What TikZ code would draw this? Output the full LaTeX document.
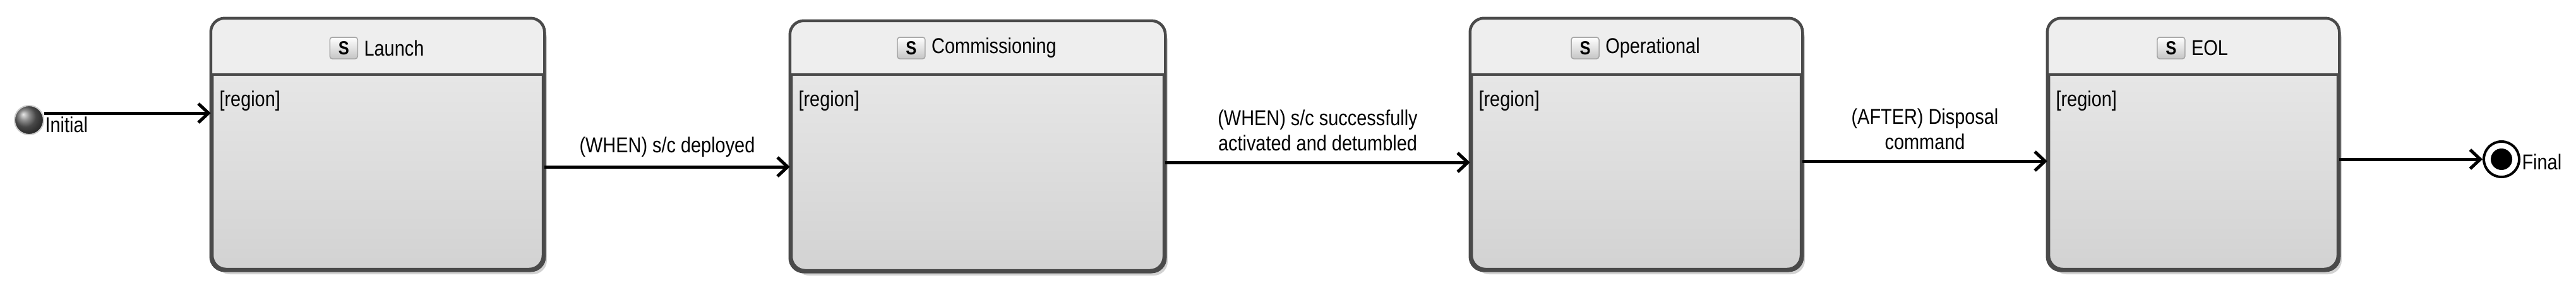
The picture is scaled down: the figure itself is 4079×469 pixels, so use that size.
\documentclass[tikz,border=0pt]{standalone}
\usepackage{fontspec}
\setmainfont{Liberation Sans}[FakeStretch=0.85]
\usetikzlibrary{arrows.meta,shadows}
\definecolor{bord}{HTML}{4A4A4A}
\tikzset{
  x=1pt,y=-1pt,
  tr/.style={line width=5pt,-{Straight Barb[length=16pt,width=30pt,line width=5pt]}},
  txt/.style={font=\fontsize{34}{40}\selectfont},
  lbl/.style={txt,align=center},
  st/.style={draw=bord,line width=4.5pt,rounded corners=22pt,inner sep=0pt,
    top color=gray!15,bottom color=gray!35,
    drop shadow={shadow xshift=6pt,shadow yshift=-8pt,fill=gray!35,opacity=1}},
}
\newcommand{\mystate}[6]{%
  \node[st,minimum width=#4-#2,minimum height=#5-#3] (#1) at ({(#2+#4)/2},{(#3+#5)/2}) {};
  \begin{scope}
    \clip[rounded corners=22pt] (#1.north west) rectangle (#1.south east);
    \fill[gray!13] (#1.north west) rectangle (#4,118);
  \end{scope}
  \draw[bord,line width=4.5pt,rounded corners=22pt] (#1.north west) rectangle (#1.south east);
  \draw[bord,line width=4.5pt] (#2,118) -- (#4,118);
  \node[txt] (#1t) at ({(#2+#4)/2+26},76) {#6};
  \node[draw=gray!70,line width=1.5pt,rounded corners=4pt,top color=white,bottom color=gray!45,
    minimum width=44pt,minimum height=34pt,inner sep=0pt,anchor=east,
    font=\bfseries\fontsize{30}{30}\selectfont] (#1i) at ([xshift=-6pt]#1t.west) {S};
  \node[anchor=north west,txt] (#1r) at (#2+8,140) {[region]};
}
\begin{document}
\begin{tikzpicture}
\useasboundingbox (0,0) rectangle (4079,469);
\mystate{launch}{336}{31}{860}{426}{Launch}
\mystate{comm}{1253}{35}{1843}{428}{Commissioning}
\mystate{oper}{2330}{31}{2852}{426}{Operational}
\mystate{eol}{3244}{31}{3702}{426}{EOL}
\node[circle,minimum size=46pt,inner sep=0pt,ball color=gray!80!black,draw=gray!40,line width=2pt] (init) at (46,190) {};
\node[anchor=west,txt] (initl) at (68,197) {Initial};
\node[circle,minimum size=56pt,inner sep=0pt,draw=black,line width=4pt,fill=white] (fin) at (3961,252) {};
\fill[black] (fin.center) circle (17pt);
\node[anchor=west,txt] (finl) at (3990,256) {Final};
\draw[tr] (init.east |- 0,179) -- (launch.west |- 0,179);
\draw[tr] (launch.east |- 0,264) -- (comm.west |- 0,264) node[lbl,midway,above=10pt] {(WHEN) s/c deployed};
\draw[tr] (comm.east |- 0,257) -- (oper.west |- 0,257) node[lbl,midway,above=12pt] {(WHEN) s/c successfully\\activated and detumbled};
\draw[tr] (oper.east |- 0,255) -- (eol.west |- 0,255) node[lbl,midway,above=12pt] {(AFTER) Disposal\\command};
\draw[tr] (eol.east |- fin.west) -- (fin.west);
\end{tikzpicture}
\end{document}
